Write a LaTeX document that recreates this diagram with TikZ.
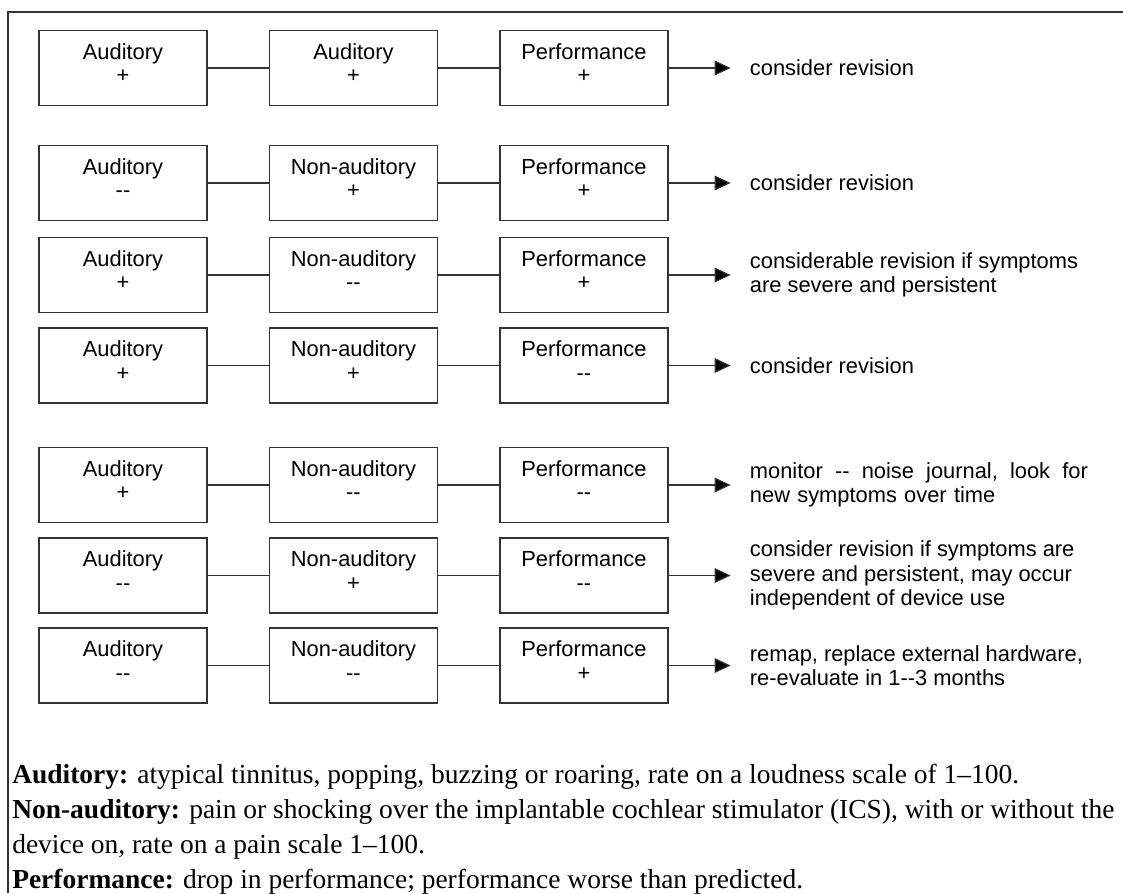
\documentclass[tikz,border=0pt]{standalone}
\usepackage{fontspec}
\setmainfont{Liberation Sans}
\newfontfamily\notefont[Ligatures=TeX]{Liberation Serif}
\usepackage{tikz}
\usetikzlibrary{positioning,arrows.meta}

\begin{document}
\begin{tikzpicture}[x=0.75pt,y=-0.75pt,>={Triangle[length=12pt,width=11pt]},
        node distance=45.75pt,
        main node/.style={rectangle,draw=black!80,line width=1.1pt,minimum width=126pt,
            minimum height=56.25pt,inner sep=0pt,align=center,text depth=7.5pt,
            font=\fontsize{16.4}{17.5}\selectfont},
        note node/.style={align=left,inner sep=0pt,font=\fontsize{16.4}{18.3}\selectfont},
        foot node/.style={align=left,inner sep=0pt,font=\notefont\fontsize{20.6}{26.25}\selectfont}]

    \useasboundingbox (0,0) rectangle (1123,893);
    \draw[black!80,line width=1pt] (8,893) -- (8,12) -- (1123,12);

    \node[main node] (a1) at (123,68) {Auditory\\+};
    \node[main node] (n1) [right=of a1] {Auditory\\+};
    \node[main node] (p1) [right=of n1] {Performance\\+};
    \node[note node] (r1) [right=60.75pt of p1] {consider revision};

    \node[main node] (a2) at (123,183) {Auditory\\-{}-};
    \node[main node] (n2) [right=of a2] {Non-auditory\\+};
    \node[main node] (p2) [right=of n2] {Performance\\+};
    \node[note node] (r2) [right=60.75pt of p2] {consider revision};

    \node[main node] (a3) at (123,275) {Auditory\\+};
    \node[main node] (n3) [right=of a3] {Non-auditory\\-{}-};
    \node[main node] (p3) [right=of n3] {Performance\\+};
    \node[note node] (r3) [right=60.75pt of p3] {considerable revision if symptoms\\are severe and persistent};

    \node[main node] (a4) at (123,365.5) {Auditory\\+};
    \node[main node] (n4) [right=of a4] {Non-auditory\\+};
    \node[main node] (p4) [right=of n4] {Performance\\-{}-};
    \node[note node] (r4) [right=60.75pt of p4] {consider revision};

    \node[main node] (a5) at (123,485) {Auditory\\+};
    \node[main node] (n5) [right=of a5] {Non-auditory\\-{}-};
    \node[main node] (p5) [right=of n5] {Performance\\-{}-};
    \node[note node,text width=253.5pt] (r5) [right=60.75pt of p5]
        {monitor\hfill-{}-\hfill noise\hfill journal,\hfill look\hfill for\\new symptoms over time};

    \node[main node] (a6) at (123,575.5) {Auditory\\-{}-};
    \node[main node] (n6) [right=of a6] {Non-auditory\\+};
    \node[main node] (p6) [right=of n6] {Performance\\-{}-};
    \node[note node] (r6) [right=60.75pt of p6] {consider revision if symptoms are\\severe and persistent, may occur\\independent of device use};

    \node[main node] (a7) at (123,665.5) {Auditory\\-{}-};
    \node[main node] (n7) [right=of a7] {Non-auditory\\-{}-};
    \node[main node] (p7) [right=of n7] {Performance\\+};
    \node[note node] (r7) [right=60.75pt of p7] {remap, replace external hardware,\\re-evaluate in 1-{}-3 months};

    \path[-,draw=black!80,line width=0.9pt]
    (a1) edge (n1) (n1) edge (p1)
    (a2) edge (n2) (n2) edge (p2)
    (a3) edge (n3) (n3) edge (p3)
    (a4) edge (n4) (n4) edge (p4)
    (a5) edge (n5) (n5) edge (p5)
    (a6) edge (n6) (n6) edge (p6)
    (a7) edge (n7) (n7) edge (p7);

    \path[->,draw=black!80,line width=0.9pt,shorten >=14.25pt]
    (p1) edge (r1)
    (p2) edge (r2)
    (p3) edge (r3)
    (p4) edge (r4)
    (p5) edge (r5)
    (p6) edge (r6)
    (p7) edge (r7);

    \node[foot node,anchor=north west] (foot) at (12,764)
        {\textbf{Auditory:} atypical tinnitus, popping, buzzing or roaring, rate on a loudness scale of 1--100.\\
         \textbf{Non-auditory:} pain or shocking over the implantable cochlear stimulator (ICS), with or without the\\
         device on, rate on a pain scale 1--100.\\
         \textbf{Performance:} drop in performance; performance worse than predicted.};

\end{tikzpicture}
\end{document}
